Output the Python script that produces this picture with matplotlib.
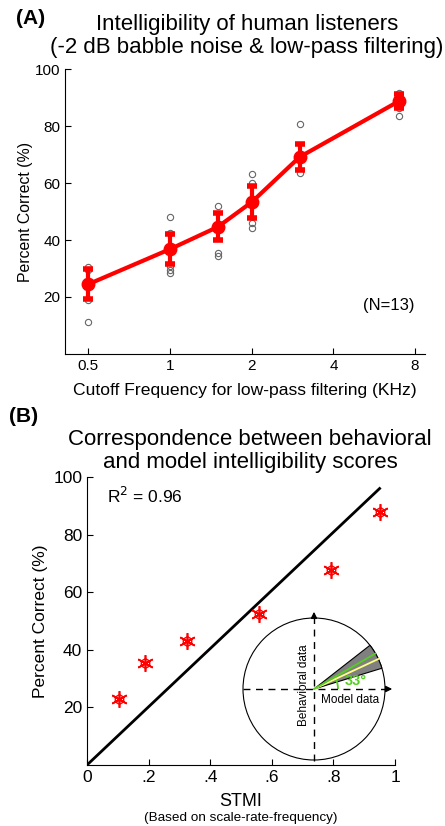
import numpy as np
import matplotlib
matplotlib.use("Agg")
import matplotlib.pyplot as plt
from matplotlib.patches import Circle, Wedge, Arc

plt.rcParams['font.family'] = ['Liberation Sans', 'DejaVu Sans']

# panel A data
cutoff = [0.5, 1.0, 1.5, 2.0, 3.0, 7.0]
mean_pc = [24.5, 36.8, 44.6, 53.3, 69.1, 88.8]
err_pc = [5.3, 5.2, 4.7, 5.6, 4.5, 2.5]
subj_x = [0.5, 0.5, 0.5, 0.5, 1, 1, 1, 1, 1, 1.5, 1.5, 1.5, 2, 2, 2, 2, 3, 3, 7, 7, 7]
subj_y = [30.5, 29.5, 19, 11.2, 48, 42.5, 31, 29.5, 28.5, 52, 35.5, 34.5,
          63, 60, 46, 44.3, 80.7, 63.5, 91.5, 86.3, 83.5]
xticks_a = [0.5, 1, 2, 4, 8]
xticklabels_a = ['0.5', '1', '2', '4', '8']

# panel B data
stmi = [0.104, 0.188, 0.325, 0.558, 0.792, 0.951]
behav = [22.8, 35.3, 43.2, 52.3, 67.8, 88.0]
fit_x = [0.0, 0.95]
fit_y = [0.0, 96.0]
xticks_b = [0, 0.2, 0.4, 0.6, 0.8, 1.0]
xticklabels_b = ['0', '.2', '.4', '.6', '.8', '1']

# inset angles (deg)
wedge_lo, wedge_hi = 17, 38
green_ang, yellow_ang = 30, 25

W, H = 445, 826
fig = plt.figure(figsize=(W / 100, H / 100), dpi=100)


def box(l, t, r, b):
    return [l / W, 1 - b / H, (r - l) / W, (b - t) / H]


def style(ax, fs):
    for s in ['top', 'right']:
        ax.spines[s].set_visible(False)
    ax.tick_params(direction='in', length=4, labelsize=fs, width=0.8)
    ax.tick_params(which='minor', length=0)


# ---- panel A
ax = fig.add_axes(box(65, 69, 425, 354))
ax.set_xscale('log', base=2)
ax.plot(subj_x, subj_y, 'o', mfc='none', mec='#666666', ms=4.5, mew=0.8, zorder=2)
ax.errorbar(cutoff, mean_pc, yerr=err_pc, color='red', lw=3, marker='o', ms=9,
            elinewidth=3, capsize=3.5, capthick=4, zorder=3)
ax.set_xlim(0.41, 8.7)
ax.set_ylim(0, 100)
ax.set_xticks(xticks_a)
ax.set_xticklabels(xticklabels_a)
ax.set_yticks([20, 40, 60, 80, 100])
style(ax, 11)
ax.set_xlabel('Cutoff Frequency for low-pass filtering (KHz)', fontsize=12.6, labelpad=7)
ax.set_ylabel('Percent Correct (%)', fontsize=11.4, labelpad=1)
ax.text(0.97, 0.17, '(N=13)', transform=ax.transAxes, ha='right', va='center', fontsize=12)
fig.text(247 / W, 1 - 36 / H, 'Intelligibility of human listeners\n(-2 dB babble noise & low-pass filtering)',
         ha='center', va='center', fontsize=16, linespacing=1.15)
fig.text(16 / W, 1 - 19 / H, '(A)', fontsize=15, fontweight='bold', va='center')

# ---- panel B
bx = fig.add_axes(box(87, 477, 395, 765))
bx.plot(fit_x, fit_y, color='black', lw=2)
bx.plot(stmi, behav, linestyle='none', marker=(6, 2, 0), color='red', ms=12, mew=1.2)
bx.plot(stmi, behav, linestyle='none', marker='h', mfc='none', mec='red', ms=7, mew=1)
bx.set_xlim(0, 1)
bx.set_ylim(0, 100)
bx.set_xticks(xticks_b)
bx.set_xticklabels(xticklabels_b)
bx.set_yticks([20, 40, 60, 80, 100])
style(bx, 12.5)
bx.set_xlabel('STMI', fontsize=13, labelpad=6)
bx.set_ylabel('Percent Correct (%)', fontsize=12.5)
bx.text(0.065, 0.935, 'R$^2$ = 0.96', transform=bx.transAxes, fontsize=12.5, va='center')
fig.text(241 / W, 1 - 818 / H, '(Based on scale-rate-frequency)', ha='center', va='center', fontsize=9.7)
fig.text(250 / W, 1 - 451 / H, 'Correspondence between behavioral\nand model intelligibility scores',
         ha='center', va='center', fontsize=16, linespacing=1.15)
fig.text(9 / W, 1 - 416 / H, '(B)', fontsize=15, fontweight='bold', va='center')

# ---- inset (1 unit = 1 pixel, centre of circle at origin)
ix = fig.add_axes(box(234, 600, 404, 770))
ix.set_xlim(-80, 90)
ix.set_ylim(-81, 89)
ix.axis('off')
ix.patch.set_alpha(0)
R = 71
ix.add_patch(Circle((0, 0), R, fill=False, ec='black', lw=0.8))
ix.add_patch(Wedge((0, 0), R, wedge_lo, wedge_hi, fc='#808080', ec='black', lw=0.8))
for ang, col in [(yellow_ang, '#ffff80'), (green_ang, '#55cc22')]:
    a = np.deg2rad(ang)
    ix.plot([0, R * np.cos(a)], [0, R * np.sin(a)], color=col, lw=1.3)
ix.add_patch(Arc((0, 0), 48, 48, theta1=0, theta2=green_ang, color='#55cc22', lw=1.3))
ix.plot([-R, 74], [0, 0], color='black', lw=1, dashes=(5, 4))
ix.plot([0, 0], [-R - 1, 73], color='black', lw=1, dashes=(5, 4))
ix.annotate('', xy=(81, 0), xytext=(72, 0),
            arrowprops=dict(arrowstyle='-|>', color='black', lw=1, mutation_scale=9))
ix.annotate('', xy=(0, 80), xytext=(0, 71),
            arrowprops=dict(arrowstyle='-|>', color='black', lw=1, mutation_scale=9))
ix.text(42, 8, '33°', color='#55cc22', fontsize=10.5, fontweight='bold', ha='center', va='center')
ix.text(36, -11, 'Model data', fontsize=8.5, ha='center', va='center')
ix.text(-10, 4, 'Behavioral data', fontsize=8.5, ha='center', va='center', rotation=90)

fig.savefig('out.png', dpi=100)
